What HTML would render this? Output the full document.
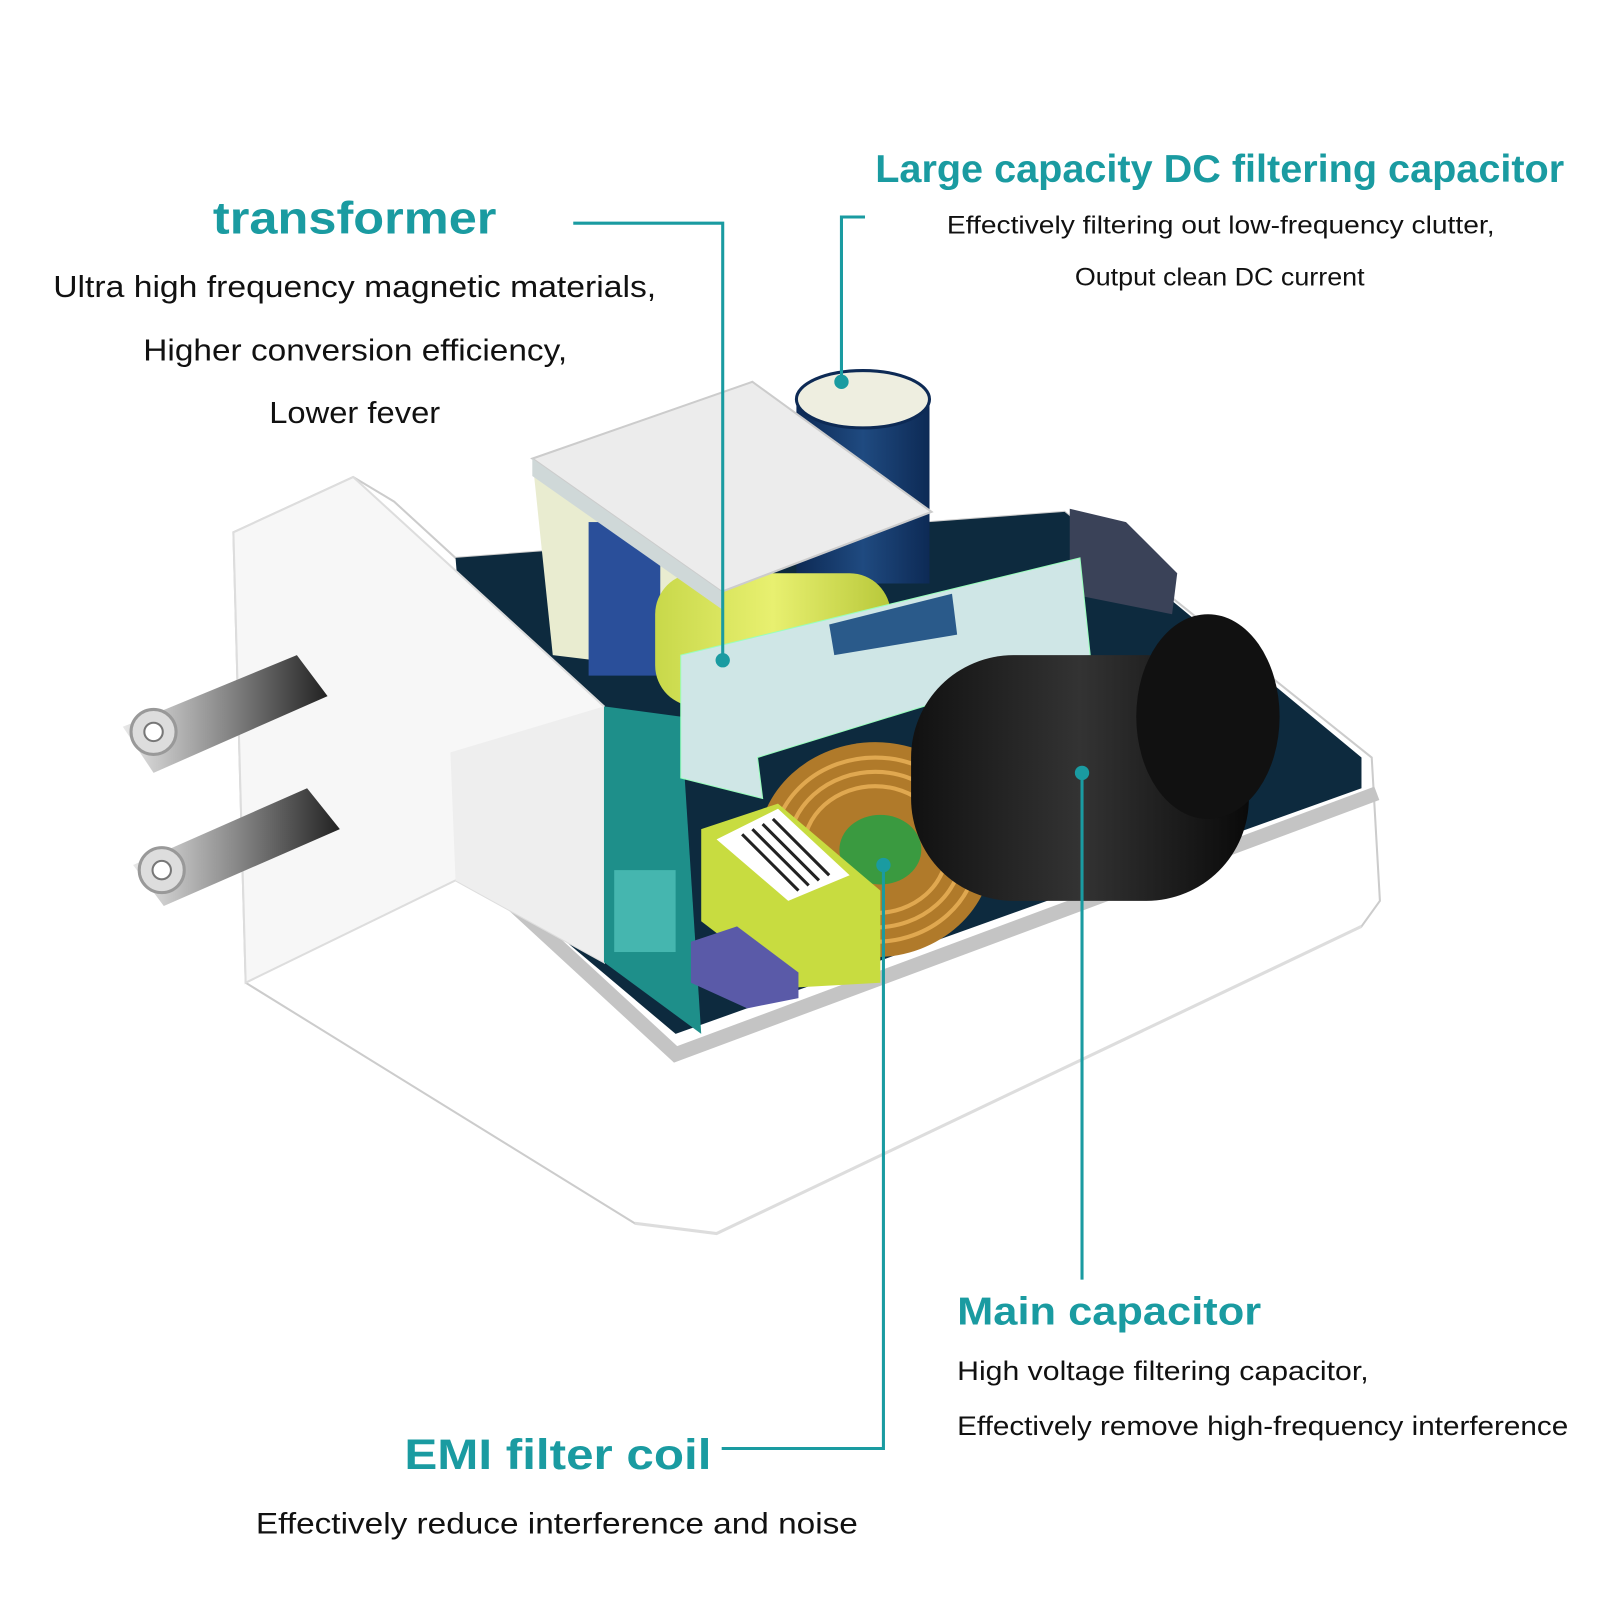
<!DOCTYPE html>
<html><head><meta charset="utf-8"><style>
html,body{margin:0;padding:0;background:#fff;}
svg{display:block;}
</style></head><body>
<svg width="1600" height="1600" viewBox="0 0 1563 1563" xmlns="http://www.w3.org/2000/svg">
<defs>
<linearGradient id="prong" x1="0" y1="0" x2="1" y2="0">
<stop offset="0" stop-color="#e8e8e8"/><stop offset="0.5" stop-color="#888"/><stop offset="1" stop-color="#222"/>
</linearGradient>
<linearGradient id="blk" x1="0" y1="0" x2="1" y2="0">
<stop offset="0" stop-color="#111"/><stop offset="0.5" stop-color="#333"/><stop offset="1" stop-color="#0a0a0a"/>
</linearGradient>
<linearGradient id="cyl" x1="0" y1="0" x2="1" y2="0">
<stop offset="0" stop-color="#c8d84a"/><stop offset="0.5" stop-color="#e8f070"/><stop offset="1" stop-color="#b8c83a"/>
</linearGradient>
<linearGradient id="navy" x1="0" y1="0" x2="1" y2="0">
<stop offset="0" stop-color="#0d2a55"/><stop offset="0.5" stop-color="#1f4a80"/><stop offset="1" stop-color="#0d2a55"/>
</linearGradient>
</defs>
<!-- housing -->
<polygon points="228,520 345,466 385,490 445,545 1040,500 1340,740 1348,880 1330,905 700,1205 620,1195 240,960" fill="#fff" stroke="#ccc" stroke-width="2"/>
<polygon points="445,545 1040,500 1330,740 1330,770 660,1010 470,850" fill="#0d2a3e"/>
<polyline points="470,855 660,1030 1345,775" fill="none" stroke="#c4c4c4" stroke-width="14"/>
<polyline points="620,1195 700,1205 1330,905" fill="none" stroke="#ddd" stroke-width="3"/>
<!-- plug face block -->
<polygon points="228,520 345,466 590,690 590,940 445,860 240,960" fill="#f7f7f7" stroke="#ddd" stroke-width="2"/>
<polygon points="440,735 590,690 590,940 445,860" fill="#eee"/>
<!-- prongs -->
<polygon points="120,710 290,640 320,680 150,755" fill="url(#prong)"/>
<circle cx="150" cy="715" r="22" fill="#ddd" stroke="#999" stroke-width="3"/><circle cx="150" cy="715" r="9" fill="#fff" stroke="#777" stroke-width="2"/>
<polygon points="130,845 300,770 332,810 160,885" fill="url(#prong)"/>
<circle cx="158" cy="850" r="22" fill="#ddd" stroke="#999" stroke-width="3"/><circle cx="158" cy="850" r="9" fill="#fff" stroke="#777" stroke-width="2"/>
<!-- PCB -->
<polygon points="590,690 665,700 685,1010 590,940" fill="#1e8f8a"/>
<rect x="600" y="850" width="60" height="80" fill="#5fd0c8" opacity="0.6"/>
<!-- dark gray right block -->
<polygon points="1045,497 1100,510 1150,560 1145,600 1045,580" fill="#3a4258"/>
<!-- small capacitor -->
<rect x="778" y="390" width="130" height="180" fill="url(#navy)"/>
<ellipse cx="843" cy="390" rx="65" ry="28" fill="#eeeee0" stroke="#0d2a55" stroke-width="3"/>
<!-- transformer -->
<polygon points="520,448 705,578 705,660 540,640" fill="#e9ecd0"/>
<rect x="575" y="510" width="70" height="150" fill="#2a4f9a"/>
<rect x="640" y="560" width="230" height="130" rx="40" fill="url(#cyl)"/>
<polygon points="520,448 735,373 910,500 705,578" fill="#ececec" stroke="#ccc" stroke-width="2"/>
<polygon points="520,448 705,578 705,595 520,465" fill="#cfd8d8"/>
<!-- pale L board -->
<polygon points="665,640 1055,545 1065,640 740,740 745,780 665,760" fill="#cfe6e6" stroke="#9fb" stroke-width="1"/>
<polygon points="810,610 930,580 935,620 815,640" fill="#2a5a8a"/>
<!-- coil -->
<ellipse cx="855" cy="830" rx="115" ry="105" fill="#b07a2a"/>
<g stroke="#e0a850" stroke-width="4" fill="none">
<ellipse cx="855" cy="830" rx="100" ry="90"/><ellipse cx="855" cy="830" rx="85" ry="76"/><ellipse cx="855" cy="830" rx="70" ry="62"/>
</g>
<ellipse cx="860" cy="830" rx="40" ry="34" fill="#3a9a40"/>
<!-- big black capacitor -->
<rect x="890" y="640" width="330" height="240" rx="100" fill="url(#blk)"/>
<ellipse cx="1180" cy="700" rx="70" ry="100" fill="#111"/>
<!-- yellow box -->
<polygon points="685,810 760,785 860,870 860,960 770,965 685,900" fill="#c8dc40"/>
<polygon points="700,820 760,790 830,855 770,880" fill="#fff"/>
<g stroke="#222" stroke-width="3"><line x1="725" y1="815" x2="780" y2="870"/><line x1="735" y1="810" x2="790" y2="865"/><line x1="745" y1="805" x2="800" y2="860"/><line x1="755" y1="800" x2="810" y2="855"/></g>
<!-- purple block -->
<polygon points="675,920 720,905 780,950 780,975 730,985 675,960" fill="#5a5aa8"/>
<!-- callout lines -->
<g stroke="#1a9ba1" stroke-width="3" fill="none">
<polyline points="560,218 706,218 706,645"/>
<polyline points="845,212 822,212 822,373"/>
<line x1="1057" y1="755" x2="1057" y2="1250"/>
<polyline points="863,845 863,1415 705,1415"/>
</g>
<g fill="#1a9ba1"><circle cx="706" cy="645" r="7"/><circle cx="822" cy="373" r="7"/><circle cx="1057" cy="755" r="7"/><circle cx="863" cy="845" r="7"/></g>
<!-- text -->
<g font-family="Liberation Sans, sans-serif">
<g fill="#1a9ba1" font-weight="bold">
<text x="208" y="228" font-size="44" textLength="277" lengthAdjust="spacingAndGlyphs">transformer</text>
<text x="855" y="178" font-size="38" textLength="673" lengthAdjust="spacingAndGlyphs">Large capacity DC filtering capacitor</text>
<text x="935" y="1294" font-size="38" textLength="297" lengthAdjust="spacingAndGlyphs">Main capacitor</text>
<text x="395" y="1435" font-size="42" textLength="300" lengthAdjust="spacingAndGlyphs">EMI filter coil</text>
</g>
<g fill="#111">
<text x="52" y="290" font-size="30" textLength="589" lengthAdjust="spacingAndGlyphs">Ultra high frequency magnetic materials,</text>
<text x="140" y="352" font-size="30" textLength="414" lengthAdjust="spacingAndGlyphs">Higher conversion efficiency,</text>
<text x="263" y="413" font-size="30" textLength="167" lengthAdjust="spacingAndGlyphs">Lower fever</text>
<text x="925" y="228" font-size="24" textLength="535" lengthAdjust="spacingAndGlyphs">Effectively filtering out low-frequency clutter,</text>
<text x="1050" y="279" font-size="24" textLength="283" lengthAdjust="spacingAndGlyphs">Output clean DC current</text>
<text x="935" y="1348" font-size="26" textLength="402" lengthAdjust="spacingAndGlyphs">High voltage filtering capacitor,</text>
<text x="935" y="1402" font-size="26" textLength="597" lengthAdjust="spacingAndGlyphs">Effectively remove high-frequency interference</text>
<text x="250" y="1498" font-size="29" textLength="588" lengthAdjust="spacingAndGlyphs">Effectively reduce interference and noise</text>
</g>
</g>
</svg>
</body></html>
